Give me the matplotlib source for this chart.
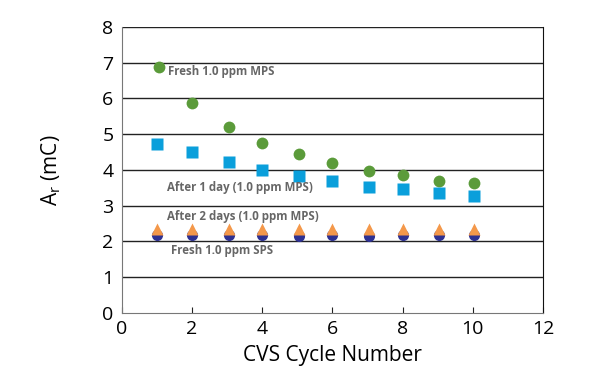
import numpy as np
import matplotlib.pyplot as plt

plt.rcParams['font.family'] = ['Open Sans', 'DejaVu Sans']

# data
x_mps = [1.05, 2.0, 3.05, 4.0, 5.04, 5.98, 7.04, 8.0, 9.03, 10.03]
fresh_mps = [6.88, 5.87, 5.20, 4.76, 4.45, 4.20, 3.97, 3.86, 3.69, 3.64]
x_day1 = [1.0, 2.0, 3.05, 4.0, 5.04, 6.0, 7.04, 8.02, 9.03, 10.03]
day1_mps = [4.73, 4.50, 4.22, 4.00, 3.83, 3.69, 3.52, 3.47, 3.36, 3.27]
x_day2 = [1.0, 2.0, 3.05, 4.0, 5.04, 6.0, 7.04, 8.02, 9.03, 10.03]
day2_mps = [2.36, 2.36, 2.36, 2.36, 2.36, 2.36, 2.36, 2.36, 2.36, 2.36]
fresh_sps = [2.17, 2.17, 2.17, 2.17, 2.15, 2.17, 2.15, 2.17, 2.17, 2.17]

labels = ["Fresh 1.0 ppm MPS", "After 1 day (1.0 ppm MPS)",
          "After 2 days (1.0 ppm MPS)", "Fresh 1.0 ppm SPS"]

fig = plt.figure(figsize=(6, 3.84), dpi=100)
ax = fig.add_axes([0.203, 0.185, 0.702, 0.745])

for yv in range(1, 9):
    ax.axhline(yv, color='#222222', lw=1.0, zorder=1)

ax.plot(x_mps, fresh_mps, 'o', color='#5B9B3A', ms=8.5, mec='none', zorder=3)
ax.plot(x_day1, day1_mps, 's', color='#0A9FDB', ms=8.5, mec='none', zorder=3)
ax.plot(x_day2, fresh_sps, 'o', color='#2E3192', ms=8, mec='none', zorder=3)
ax.plot(x_day2, day2_mps, '^', color='#F4984A', ms=9, mec='none', zorder=4)

txt = dict(fontsize=8.3, fontweight='bold', color='#666666', ha='left', va='center')
ax.text(1.31, 6.74, labels[0], **txt)
ax.text(1.28, 3.50, labels[1], **txt)
ax.text(1.28, 2.69, labels[2], **txt)
ax.text(1.39, 1.76, labels[3], **txt)

ax.set_xlim(0, 12)
ax.set_ylim(0, 8)
ax.set_xticks(range(0, 13, 2))
ax.set_yticks(range(0, 9))
ax.tick_params(axis='x', direction='in', length=4, color='#222222', labelsize=14, pad=5)
ax.tick_params(axis='y', length=0, labelsize=14, pad=6)
ax.spines['top'].set_visible(False)
ax.spines['left'].set_color('#777777')
ax.spines['bottom'].set_color('#777777')
ax.spines['right'].set_color('#111111')
ax.set_xlabel('CVS Cycle Number', fontsize=15, labelpad=5)
ax.set_ylabel(r'A$_\mathregular{r}$ (mC)', fontsize=15, labelpad=28)

fig.savefig('out.png', dpi=100)
